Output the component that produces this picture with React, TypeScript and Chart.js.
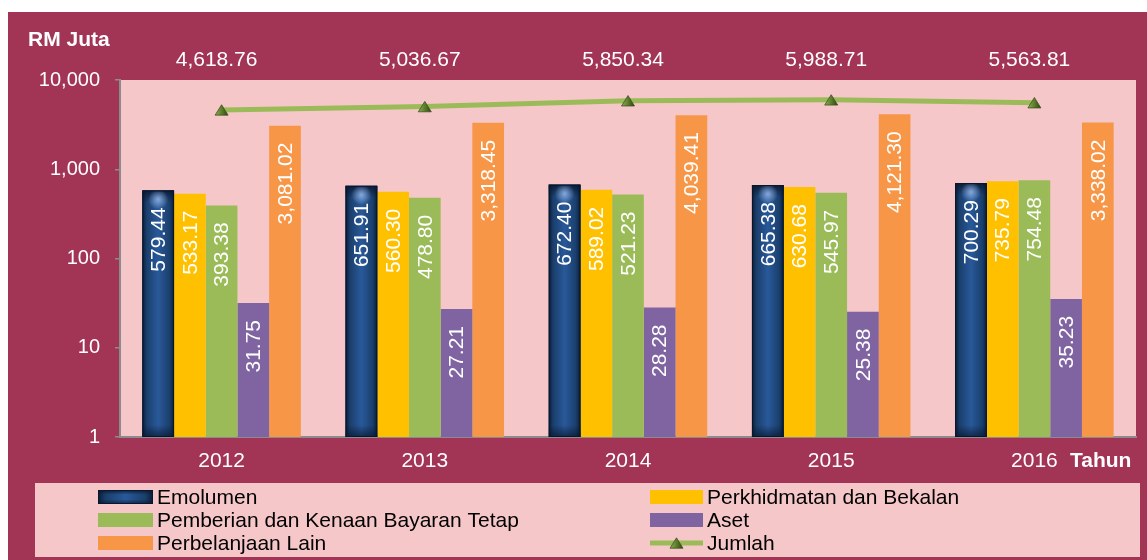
import React, { useEffect, useRef } from 'react';
import { Chart, registerables } from 'chart.js';

Chart.register(...registerables);

// ---- data ----
const years = ['2012', '2013', '2014', '2015', '2016'];
const emolumen = [579.44, 651.91, 672.4, 665.38, 700.29];
const perkhidmatan = [533.17, 560.3, 589.02, 630.68, 735.79];
const pemberian = [393.38, 478.8, 521.23, 545.97, 754.48];
const aset = [31.75, 27.21, 28.28, 25.38, 35.23];
const perbelanjaan = [3081.02, 3318.45, 4039.41, 4121.3, 3338.02];
const jumlah = [4618.76, 5036.67, 5850.34, 5988.71, 5563.81];
const yTickValues = [1, 10, 100, 1000, 10000];
const seriesNames = [
  'Emolumen',
  'Perkhidmatan dan Bekalan',
  'Pemberian dan Kenaan Bayaran Tetap',
  'Aset',
  'Perbelanjaan Lain',
  'Jumlah',
];
const yAxisTitle = 'RM Juta';
const xAxisTitle = 'Tahun';

// ---- styles ----
const FONT = '"Liberation Sans", Arial, Helvetica, sans-serif';
const MAROON = '#A23456';
const PINK = '#F6C7C8';
const AXIS = '#8C8C8C';
const COLORS = ['#1F497D', '#FFC000', '#9BBB59', '#8064A2', '#F79646'];
const LINE_COLOR = '#9BBB59';
const W = 1139;
const H = 548;

const fmt = (v: number) =>
  v.toLocaleString('en-US', { minimumFractionDigits: 2, maximumFractionDigits: 2 });

function drawBlueBar(ctx: CanvasRenderingContext2D, left: number, top: number, w: number, h: number) {
  const g = ctx.createLinearGradient(left, 0, left + w, 0);
  g.addColorStop(0, '#0A1C36');
  g.addColorStop(0.14, '#1A3F6C');
  g.addColorStop(0.5, '#29599A');
  g.addColorStop(0.86, '#1A3F6C');
  g.addColorStop(1, '#0A1C36');
  ctx.fillStyle = g;
  ctx.fillRect(left, top, w, h);
  const band = Math.min(12, h / 3);
  const gt = ctx.createLinearGradient(0, top, 0, top + band);
  gt.addColorStop(0, 'rgba(8,22,45,0.85)');
  gt.addColorStop(1, 'rgba(8,22,45,0)');
  ctx.fillStyle = gt;
  ctx.fillRect(left, top, w, band);
  const gb = ctx.createLinearGradient(0, top + h - band, 0, top + h);
  gb.addColorStop(0, 'rgba(8,22,45,0)');
  gb.addColorStop(1, 'rgba(8,22,45,0.7)');
  ctx.fillStyle = gb;
  ctx.fillRect(left, top + h - band, w, band);
  if (h > 20) {
    const cx = left + w / 2;
    const cy = top + 9;
    const rg = ctx.createRadialGradient(cx, cy, 0, cx, cy, w * 0.32);
    rg.addColorStop(0, 'rgba(150,185,235,0.85)');
    rg.addColorStop(1, 'rgba(150,185,235,0)');
    ctx.fillStyle = rg;
    ctx.fillRect(left, top, w, 20);
  }
  ctx.strokeStyle = '#08172C';
  ctx.lineWidth = 1;
  ctx.strokeRect(left + 0.5, top + 0.5, w - 1, h - 1);
}

function drawTriangle(ctx: CanvasRenderingContext2D, x: number, y: number, r: number) {
  const h = r * 1.6;
  ctx.beginPath();
  ctx.moveTo(x, y - h / 2);
  ctx.lineTo(x + r, y + h / 2);
  ctx.lineTo(x - r, y + h / 2);
  ctx.closePath();
  const g = ctx.createLinearGradient(x - r, 0, x + r, 0);
  g.addColorStop(0, '#8DB04E');
  g.addColorStop(0.5, '#5E7D2C');
  g.addColorStop(1, '#2F4216');
  ctx.fillStyle = g;
  ctx.fill();
  ctx.strokeStyle = '#3C5220';
  ctx.lineWidth = 0.8;
  ctx.stroke();
}

const decorPlugin = {
  id: 'decor',
  beforeDraw(chart: any) {
    const { ctx, chartArea: a, width, height } = chart;
    ctx.save();
    ctx.fillStyle = MAROON;
    ctx.fillRect(0, 0, width, height);
    ctx.fillStyle = PINK;
    ctx.fillRect(a.left, a.top, a.right - a.left, a.bottom - a.top);

    // legend box
    ctx.fillRect(27, 471, 1105, 74);
    ctx.font = `21px ${FONT}`;
    ctx.textBaseline = 'middle';
    ctx.textAlign = 'left';
    chart.data.datasets.forEach((ds: any, i: number) => {
      const col = i % 2;
      const row = Math.floor(i / 2);
      const sx = col ? 642 : 90;
      const sw = col ? 53 : 55;
      const y = 485 + row * 23;
      if (ds.type === 'line') {
        ctx.strokeStyle = LINE_COLOR;
        ctx.lineWidth = 5;
        ctx.beginPath();
        ctx.moveTo(sx, y);
        ctx.lineTo(sx + sw, y);
        ctx.stroke();
        drawTriangle(ctx, sx + sw / 2, y, 6.5);
      } else if (i === 0) {
        drawBlueBar(ctx, sx, y - 7, sw, 14);
      } else {
        ctx.fillStyle = ds.backgroundColor;
        ctx.fillRect(sx, y - 7, sw, 14);
      }
      ctx.fillStyle = '#000000';
      ctx.fillText(ds.label, sx + sw + 4, y + 1);
    });

    // axis titles
    ctx.fillStyle = '#FFFFFF';
    ctx.font = `bold 21px ${FONT}`;
    ctx.fillText(yAxisTitle, 20, 28);
    ctx.fillText(xAxisTitle, 1062, 449);
    ctx.restore();
  },
  afterDatasetDraw(chart: any, args: any) {
    if (args.index !== 0) return;
    const { ctx } = chart;
    ctx.save();
    args.meta.data.forEach((el: any) => {
      const p = el.getProps(['x', 'y', 'base', 'width'], true);
      drawBlueBar(ctx, p.x - p.width / 2, p.y, p.width, p.base - p.y);
    });
    ctx.restore();
  },
  afterDatasetsDraw(chart: any) {
    const { ctx, chartArea: a } = chart;
    ctx.save();
    ctx.fillStyle = '#FFFFFF';
    ctx.font = `21px ${FONT}`;
    chart.data.datasets.forEach((ds: any, i: number) => {
      const meta = chart.getDatasetMeta(i);
      meta.data.forEach((el: any, j: number) => {
        const p = el.getProps(['x', 'y'], true);
        const v = ds.data[j];
        if (ds.type === 'line') {
          ctx.textAlign = 'center';
          ctx.textBaseline = 'middle';
          ctx.fillText(fmt(v), p.x - 5, a.top - 20);
        } else {
          ctx.save();
          ctx.translate(p.x + 1, p.y + 17);
          ctx.rotate(-Math.PI / 2);
          ctx.textAlign = 'right';
          ctx.textBaseline = 'middle';
          ctx.fillText(fmt(v), 0, 0);
          ctx.restore();
        }
      });
    });
    ctx.restore();
  },
};

export default function App() {
  const ref = useRef<HTMLCanvasElement | null>(null);

  useEffect(() => {
    if (!ref.current) return;
    const barSeries = [emolumen, perkhidmatan, pemberian, aset, perbelanjaan];
    const datasets: any[] = barSeries.map((d, i) => ({
      type: 'bar',
      label: seriesNames[i],
      data: d,
      backgroundColor: COLORS[i],
      borderWidth: 0,
      categoryPercentage: 0.78,
      barPercentage: 1,
      order: 1,
    }));
    datasets.push({
      type: 'line',
      label: seriesNames[5],
      data: jumlah,
      borderColor: LINE_COLOR,
      borderWidth: 5,
      pointStyle: 'triangle',
      pointRadius: 0,
      pointHoverRadius: 0,
      tension: 0,
      order: 0,
    });

    const markerPlugin = {
      id: 'markers',
      afterDatasetDraw(chart: any, args: any) {
        if (chart.data.datasets[args.index].type !== 'line') return;
        const { ctx } = chart;
        ctx.save();
        args.meta.data.forEach((el: any) => {
          const p = el.getProps(['x', 'y'], true);
          drawTriangle(ctx, p.x, p.y, 6.5);
        });
        ctx.restore();
      },
    };

    const chart = new Chart(ref.current, {
      type: 'bar',
      data: { labels: years, datasets },
      options: {
        animation: false,
        responsive: false,
        devicePixelRatio: 1,
        layout: { padding: { top: 68, right: 11, bottom: 83, left: 0 } },
        plugins: {
          legend: { display: false },
          tooltip: { enabled: false },
        },
        scales: {
          x: {
            offset: true,
            grid: { display: true, drawOnChartArea: false, drawTicks: false },
            border: { display: true, color: AXIS, width: 2 },
            ticks: { color: '#FFFFFF', font: { family: FONT, size: 21 }, padding: 12 },
            afterFit: (s: any) => {
              s.height = 40;
            },
          },
          y: {
            type: 'logarithmic',
            min: 1,
            max: 10000,
            grid: {
              display: true,
              drawOnChartArea: false,
              drawTicks: true,
              tickLength: 5,
              color: AXIS,
              lineWidth: 1.5,
            },
            border: { display: true, color: AXIS, width: 2 },
            afterBuildTicks: (s: any) => {
              s.ticks = yTickValues.map((v) => ({ value: v }));
            },
            ticks: {
              color: '#FFFFFF',
              font: { family: FONT, size: 20 },
              padding: 15,
              autoSkip: false,
              callback: (v: any) => Number(v).toLocaleString('en-US'),
            },
            afterFit: (s: any) => {
              s.width = 112;
            },
          },
        },
      },
      plugins: [decorPlugin, markerPlugin],
    } as any);

    return () => chart.destroy();
  }, []);

  return (
    <div
      style={{
        position: 'fixed',
        left: 8,
        top: 12,
        width: W,
        height: H,
        background: MAROON,
        overflow: 'hidden',
      }}
    >
      <canvas ref={ref} width={W} height={H} style={{ display: 'block', width: W, height: H }} />
    </div>
  );
}
